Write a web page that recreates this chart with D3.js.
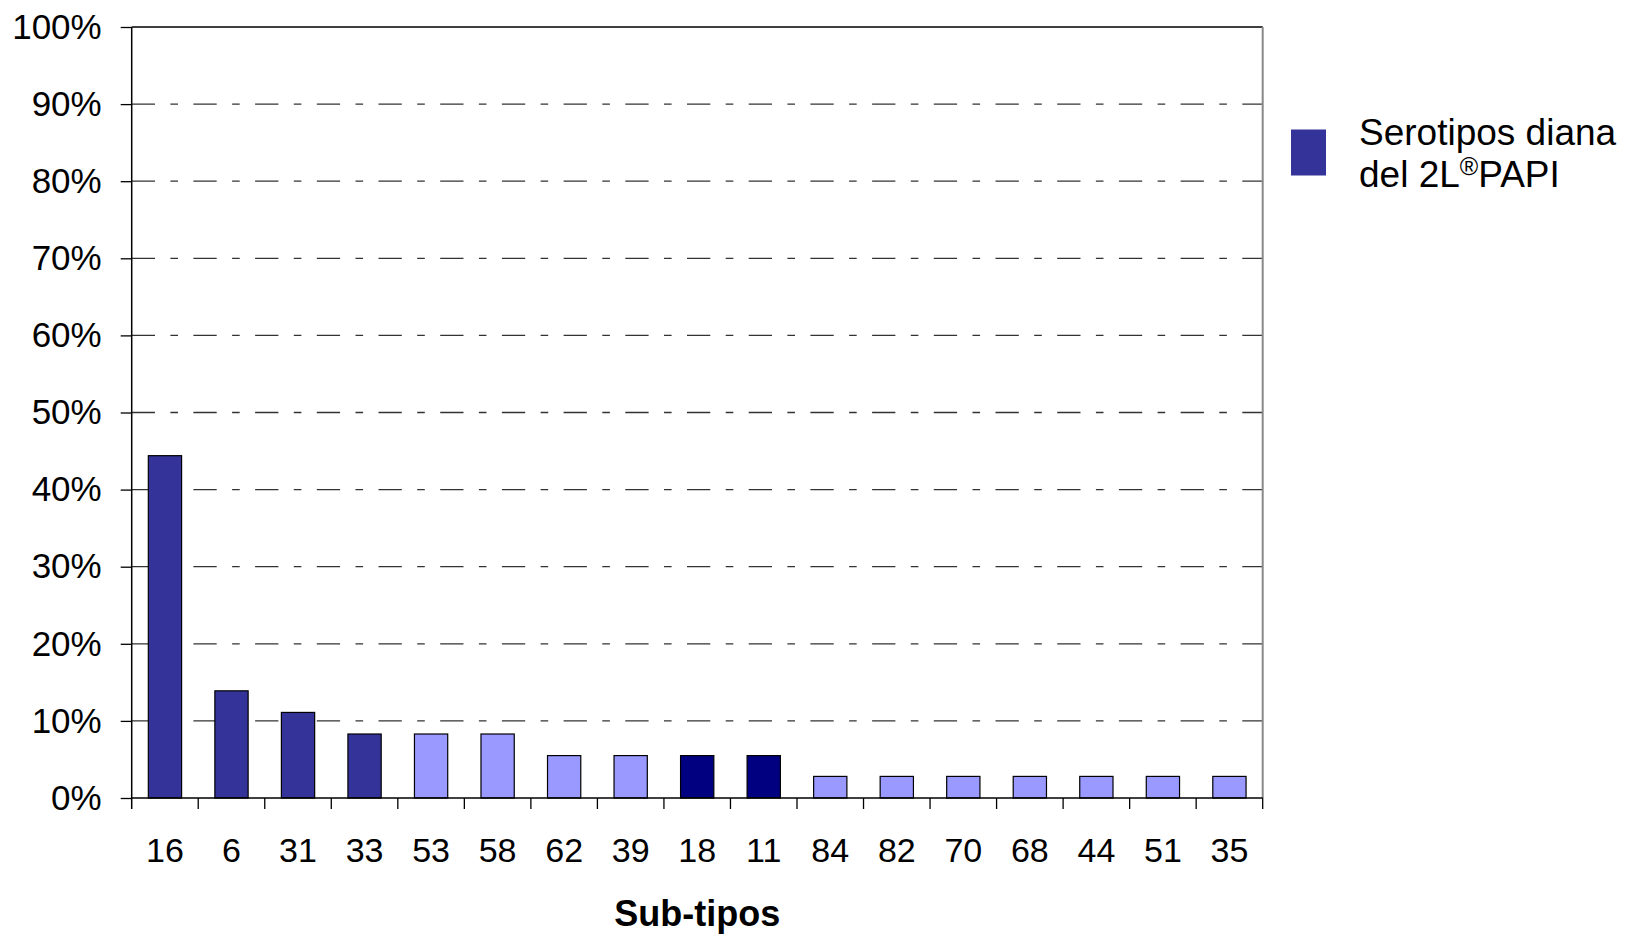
<!DOCTYPE html>
<html>
<head>
<meta charset="utf-8">
<script src="https://cdn.jsdelivr.net/npm/d3@7"></script>
<style>
  html, body { margin: 0; padding: 0; background: #fff; }
  svg { display: block; font-family: "Liberation Sans", Arial, Helvetica, sans-serif; }
</style>
</head>
<body>
<svg id="chart" width="1638" height="934"></svg>
<script>
// ---- data ----
const categories = ["16","6","31","33","53","58","62","39","18","11","84","82","70","68","44","51","35"];
const values = [44.4, 13.9, 11.1, 8.3, 8.3, 8.3, 5.5, 5.5, 5.5, 5.5, 2.8, 2.8, 2.8, 2.8, 2.8, 2.8, 2.8];
const groups = ["diana","diana","diana","diana","otro","otro","otro","otro","alto","alto","otro","otro","otro","otro","otro","otro","otro"];
const yTicks = [0, 10, 20, 30, 40, 50, 60, 70, 80, 90, 100];
const legendLines = ["Serotipos diana", "del 2L", "PAPI"];
const xTitle = "Sub-tipos";

const colorMap = { diana: "#333399", otro: "#9999FF", alto: "#000080" };

(function () {
// ---- layout ----
const pLeft = 131.7, pTop = 27, pRight = 1262.7, pBottom = 798;
const svg = d3.select("#chart");

const x = d3.scaleBand().domain(categories).range([pLeft, pRight])
  .paddingInner(0.5).paddingOuter(0.25);
const y = d3.scaleLinear().domain([0, 100]).range([pBottom, pTop]);

// gridlines (dash-dot)
svg.append("g").selectAll("line")
  .data(yTicks.filter(t => t > 0 && t < 100))
  .join("line")
  .attr("x1", pLeft).attr("x2", pRight)
  .attr("y1", d => y(d)).attr("y2", d => y(d))
  .attr("stroke", "#333").attr("stroke-width", 1.3)
  .attr("stroke-dasharray", "23.3,15.4,7.6,15.4");

// top border
svg.append("line").attr("x1", pLeft).attr("x2", pRight)
  .attr("y1", y(100)).attr("y2", y(100))
  .attr("stroke", "#000").attr("stroke-width", 1.3);
// right border
svg.append("line").attr("x1", pRight).attr("x2", pRight)
  .attr("y1", y(100)).attr("y2", pBottom)
  .attr("stroke", "#888").attr("stroke-width", 2);

// bars
svg.append("g").selectAll("rect")
  .data(categories.map((c, i) => ({ c, v: values[i], g: groups[i] })))
  .join("rect")
  .attr("x", d => x(d.c))
  .attr("width", x.bandwidth())
  .attr("y", d => y(d.v))
  .attr("height", d => pBottom - y(d.v))
  .attr("fill", d => colorMap[d.g])
  .attr("stroke", "#000").attr("stroke-width", 1.2);

// y axis
const yAxis = d3.axisLeft(y).tickValues(yTicks)
  .tickFormat(d => d + "%").tickSizeInner(11).tickSizeOuter(0).tickPadding(19);
const gy = svg.append("g").attr("transform", `translate(${pLeft},0)`).call(yAxis);
gy.select(".domain").remove();
gy.selectAll(".tick line").attr("stroke", "#000").attr("stroke-width", 1.3);
gy.selectAll(".tick text").attr("font-size", 35).attr("fill", "#000")
  .attr("font-family", "'Liberation Sans', Arial, sans-serif");
// y axis line (extends down to tick length)
svg.append("line").attr("x1", pLeft).attr("x2", pLeft)
  .attr("y1", pTop).attr("y2", pBottom + 11)
  .attr("stroke", "#000").attr("stroke-width", 1.5);

// x axis labels
const xAxis = d3.axisBottom(x).tickSize(0).tickPadding(40);
const gx = svg.append("g").attr("transform", `translate(0,${pBottom})`).call(xAxis);
gx.select(".domain").remove();
gx.selectAll(".tick text").attr("font-size", 34).attr("fill", "#000")
  .attr("font-family", "'Liberation Sans', Arial, sans-serif");
// x axis line
svg.append("line").attr("x1", pLeft).attr("x2", pRight)
  .attr("y1", pBottom).attr("y2", pBottom)
  .attr("stroke", "#000").attr("stroke-width", 1.5);
// category boundary ticks
const step = x.step();
const x0 = x(categories[0]) - step * x.paddingOuter();
svg.append("g").selectAll("line")
  .data(categories.map((c, i) => i + 1))
  .join("line")
  .attr("x1", d => x0 + step * d)
  .attr("x2", d => x0 + step * d)
  .attr("y1", pBottom).attr("y2", pBottom + 11)
  .attr("stroke", "#000").attr("stroke-width", 1.3);

// x title
svg.append("text")
  .attr("x", (pLeft + pRight) / 2).attr("y", 926)
  .attr("text-anchor", "middle")
  .attr("font-size", 36).attr("font-weight", "bold")
  .text(xTitle);

// legend
svg.append("rect")
  .attr("x", 1291).attr("y", 129.5).attr("width", 35).attr("height", 46)
  .attr("fill", colorMap.diana);
svg.append("text")
  .attr("x", 1359).attr("y", 145)
  .attr("font-size", 37)
  .text(legendLines[0]);
const t2 = svg.append("text")
  .attr("x", 1359).attr("y", 187)
  .attr("font-size", 37);
t2.append("tspan").text(legendLines[1]);
t2.append("tspan").attr("font-size", 25).attr("dy", -12).text("®");
t2.append("tspan").attr("dy", 12).text(legendLines[2]);
})();
</script>
</body>
</html>
